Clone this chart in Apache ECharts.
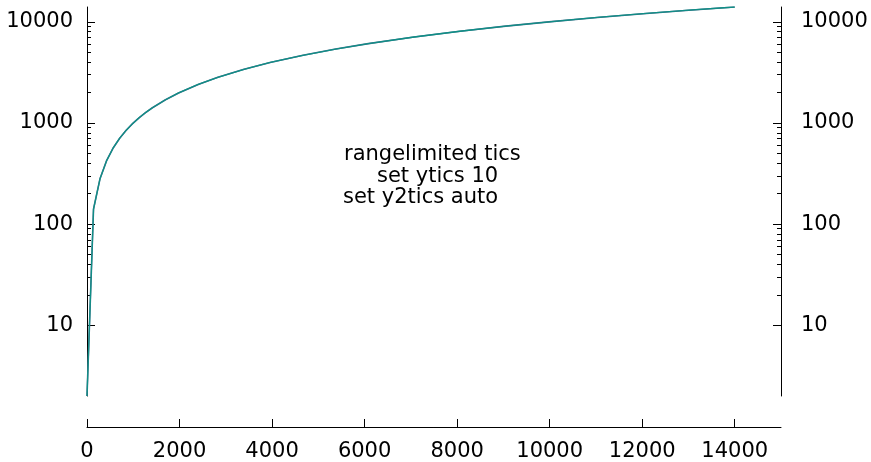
<!DOCTYPE html>
<html style="height: 100%;">
<head>
<meta charset="utf-8">
<script type="text/javascript" src="https://cdn.jsdelivr.net/npm/echarts@6/dist/echarts.min.js"></script>
</head>
<body style="height: 100%; margin: 0; background-color: #fff;">
<div id="container" style="width: 871px; height: 462px;"></div>
<script type="text/javascript">
// curve (same curve drawn against y and y2)
var xs = [0, 141, 283, 424, 566, 707, 848, 990, 1131, 1273, 1414, 1697, 1980, 2404, 2828, 3394, 3960, 4667, 5374, 6081, 7071, 8061, 9051, 10040, 11030, 12020, 13010, 14000];
var ys = [2, 141, 283, 424, 566, 707, 848, 990, 1131, 1273, 1414, 1697, 1980, 2404, 2828, 3394, 3960, 4667, 5374, 6081, 7071, 8061, 9051, 10040, 11030, 12020, 13010, 14000];
var xTicks = [0, 2000, 4000, 6000, 8000, 10000, 12000, 14000];
var yTicks = [10, 100, 1000, 10000];
var yMinor = [20, 30, 40, 50, 60, 70, 80, 90, 200, 300, 400, 500, 600, 700, 800, 900, 2000, 3000, 4000, 5000, 6000, 7000, 8000, 9000];
var noteLines = ['rangelimited tics', 'set ytics 10', 'set y2tics auto'];

var pts = xs.map(function (x, i) { return [x, ys[i]]; });
var font = 'DejaVu Sans';
var black = '#000';

function yAx(pos, major) {
    return {
        type: 'log', logBase: 10, min: 2, max: 14000, position: pos,
        axisLine: { show: major, lineStyle: { color: black, width: 1 } },
        axisTick: { show: true, inside: true, length: major ? 8 : 4,
                    customValues: major ? yTicks : yMinor,
                    lineStyle: { color: black, width: 1 } },
        axisLabel: { show: major, customValues: yTicks, color: black, fontFamily: font, fontSize: 21,
                     margin: pos === 'left' ? 14 : 20,
                     formatter: function (v) { return String(v); } },
        splitLine: { show: false }, minorTick: { show: false }
    };
}

var dom = document.getElementById('container');
var myChart = echarts.init(dom, null, { renderer: 'canvas' });
var option = {
    animation: false,
    backgroundColor: '#fff',
    grid: { left: 87, right: 90, top: 7, bottom: 64, containLabel: false },
    xAxis: {
        type: 'value', min: 0, max: 15000, position: 'bottom', offset: 31,
        axisLine: { show: true, onZero: false, lineStyle: { color: black, width: 1 } },
        axisTick: { show: true, inside: true, length: 8, customValues: xTicks, lineStyle: { color: black } },
        axisLabel: { customValues: xTicks, color: black, fontFamily: font, fontSize: 21, margin: 14,
                     formatter: function (v) { return String(v); } },
        splitLine: { show: false }
    },
    yAxis: [yAx('left', true), yAx('right', true), yAx('left', false), yAx('right', false)],
    series: [
        { type: 'line', yAxisIndex: 0, data: pts, showSymbol: false, clip: true,
          lineStyle: { color: '#4a6f8c', width: 1.6 } },
        { type: 'line', yAxisIndex: 1, data: pts, showSymbol: false, clip: true,
          lineStyle: { color: '#0f8f86', width: 1.3 } }
    ],
    graphic: [
        { type: 'text', left: 344, top: 144, style: { text: noteLines[0], font: '21px DejaVu Sans', fill: black } },
        { type: 'text', left: 377, top: 166, style: { text: noteLines[1], font: '21px DejaVu Sans', fill: black } },
        { type: 'text', left: 343, top: 187, style: { text: noteLines[2], font: '21px DejaVu Sans', fill: black } }
    ]
};
myChart.setOption(option);
</script>
</body>
</html>
